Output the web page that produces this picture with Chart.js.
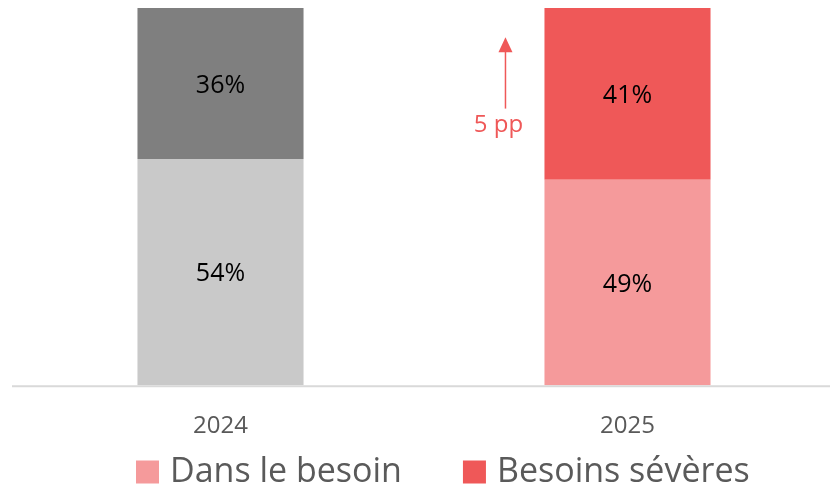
<!DOCTYPE html>
<html>
<head>
<meta charset="utf-8">
<script src="https://cdn.jsdelivr.net/npm/chart.js@4"></script>
<style>
  html, body { margin: 0; padding: 0; background: #fff; }
  #wrap { width: 831px; height: 490px; }
</style>
</head>
<body>
<div id="wrap"><canvas id="besoinChart"></canvas></div>
<script>
const years = ["2024", "2025"];
const dansLeBesoin = [54, 49];
const besoinsSeveres = [36, 41];
const seriesNames = ["Dans le besoin", "Besoins sévères"];
const dansColors = ["#c9c9c9", "#f59a9b"];
const severeColors = ["#7f7f7f", "#ef5858"];
// arrow "5 pp" next to the 2025 bar, in value units
const arrowFrom = 66;
const arrowTo = 83;
const arrowLabel = "5 pp";

const fontFamily = "'Open Sans', 'Noto Sans', sans-serif";

// percent labels inside each segment
const segmentLabels = {
    id: "segmentLabels",
    afterDatasetsDraw(chart) {
        const ctx = chart.ctx;
        ctx.save();
        ctx.font = "25px " + fontFamily;
        ctx.fillStyle = "#000";
        ctx.textAlign = "center";
        ctx.textBaseline = "middle";
        chart.data.datasets.forEach((ds, i) => {
            chart.getDatasetMeta(i).data.forEach((bar, j) => {
                const mid = (bar.y + bar.base) / 2;
                ctx.fillText(ds.data[j] + "%", bar.x, mid + 2);
            });
        });
        ctx.restore();
    }
};

// baseline + arrow between the bars
const ppArrow = {
    id: "ppArrow",
    beforeDatasetsDraw(chart) {
        const ctx = chart.ctx;
        const y0 = chart.scales.y.getPixelForValue(0) + 1;
        ctx.save();
        ctx.strokeStyle = "#d9d9d9";
        ctx.lineWidth = 2;
        ctx.beginPath();
        ctx.moveTo(12, y0);
        ctx.lineTo(chart.chartArea.right - 1, y0);
        ctx.stroke();
        ctx.restore();
    },
    afterDatasetsDraw(chart) {
        const ctx = chart.ctx;
        const yScale = chart.scales.y;
        const bar = chart.getDatasetMeta(1).data[1];
        const x = bar.x - bar.width / 2 - 39;
        const y1 = yScale.getPixelForValue(arrowFrom);
        const y2 = yScale.getPixelForValue(arrowTo);
        ctx.save();
        ctx.strokeStyle = "#ef5858";
        ctx.fillStyle = "#ef5858";
        ctx.lineWidth = 1.5;
        ctx.beginPath();
        ctx.moveTo(x, y1);
        ctx.lineTo(x, y2 + 14);
        ctx.stroke();
        ctx.beginPath();
        ctx.moveTo(x, y2);
        ctx.lineTo(x - 7, y2 + 15);
        ctx.lineTo(x + 7, y2 + 15);
        ctx.closePath();
        ctx.fill();
        ctx.font = "24px " + fontFamily;
        ctx.textAlign = "center";
        ctx.textBaseline = "middle";
        ctx.fillText(arrowLabel, x - 7, y1 + 17);
        ctx.restore();
    }
};

// legend drawn under the axis labels
const bottomLegend = {
    id: "bottomLegend",
    afterDraw(chart) {
        const ctx = chart.ctx;
        const items = [
            { text: seriesNames[0], color: dansColors[1] },
            { text: seriesNames[1], color: severeColors[1] }
        ];
        const yMid = chart.height - 18;
        let x = 136;
        ctx.save();
        ctx.font = "34px " + fontFamily;
        ctx.textBaseline = "middle";
        ctx.textAlign = "left";
        items.forEach(it => {
            ctx.fillStyle = it.color;
            ctx.fillRect(x, yMid - 11.5, 23, 23);
            ctx.fillStyle = "#5a5a5a";
            ctx.fillText(it.text, x + 34, yMid);
            x += 34 + ctx.measureText(it.text).width + 61;
        });
        ctx.restore();
    }
};

new Chart(document.getElementById("besoinChart"), {
    type: "bar",
    data: {
        labels: years,
        datasets: [{
            label: seriesNames[0],
            data: dansLeBesoin,
            backgroundColor: dansColors
        }, {
            label: seriesNames[1],
            data: besoinsSeveres,
            backgroundColor: severeColors
        }]
    },
    options: {
        responsive: true,
        maintainAspectRatio: false,
        animation: false,
        layout: { padding: { top: 8, left: 17, right: 0, bottom: 22 } },
        datasets: {
            bar: { barPercentage: 0.816, categoryPercentage: 0.5 }
        },
        scales: {
            x: {
                stacked: true,
                grid: { display: false, drawTicks: false },
                border: { display: false },
                ticks: {
                    padding: 27,
                    color: "#595959",
                    font: { family: fontFamily, size: 24 }
                }
            },
            y: {
                stacked: true,
                display: false,
                min: 0,
                max: 90
            }
        },
        plugins: {
            tooltip: { enabled: false },
            legend: { display: false }
        }
    },
    plugins: [segmentLabels, ppArrow, bottomLegend]
});
</script>
</body>
</html>
